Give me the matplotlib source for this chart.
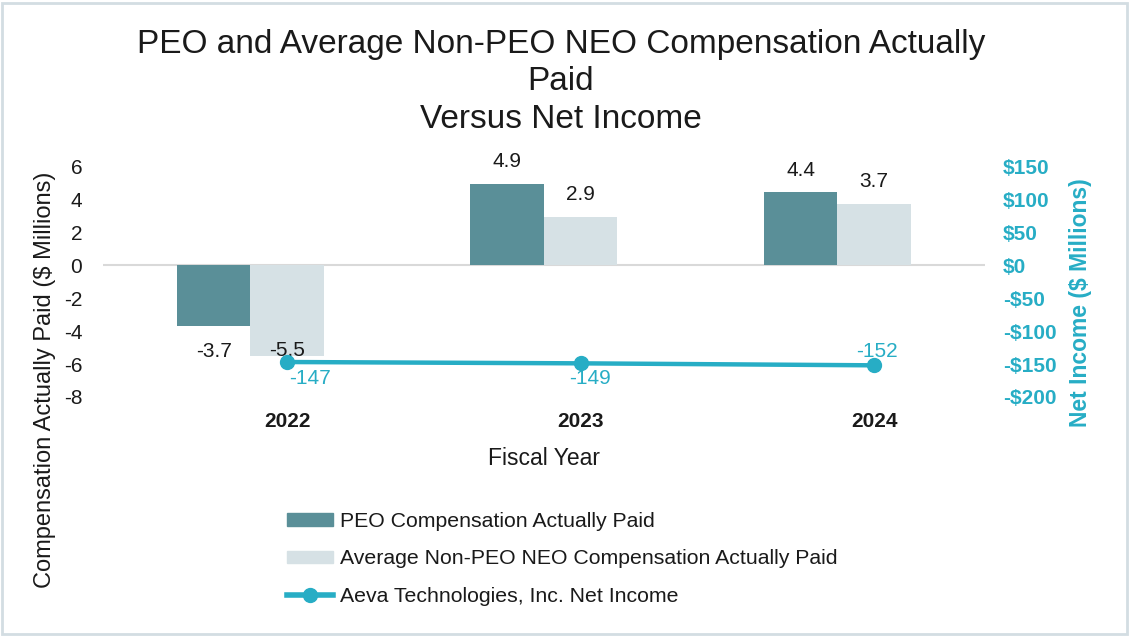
import matplotlib
matplotlib.use('Agg')
import matplotlib.pyplot as plt
import numpy as np
from matplotlib.patches import Patch, Rectangle
from matplotlib.lines import Line2D

plt.rcParams['font.family'] = ['Liberation Sans', 'DejaVu Sans']
plt.rcParams['axes.unicode_minus'] = False

# data
years = ['2022', '2023', '2024']
peo_cap = [-3.7, 4.9, 4.4]
neo_cap = [-5.5, 2.9, 3.7]
net_income = [-147, -149, -152]
left_ticks = [-8, -6, -4, -2, 0, 2, 4, 6]
right_ticks = [-200, -150, -100, -50, 0, 50, 100, 150]

# colours
c_peo = '#5A8F98'
c_neo = '#D6E1E5'
c_line = '#27ADC5'
c_text = '#1A1A1A'

W, H = 1130, 636
fig = plt.figure(figsize=(W / 100, H / 100), dpi=100)
ax = fig.add_axes([103 / W, 1 - 397 / H, (985 - 103) / W, (397 - 166) / H])

x = np.arange(len(years))
bw = 0.25
ax.bar(x - bw, peo_cap, width=bw, color=c_peo, zorder=2)
ax.bar(x, neo_cap, width=bw, color=c_neo, zorder=2)
ax.axhline(0, color='#D9D9D9', lw=1.5, zorder=1)

ax.set_xlim(-0.627, 2.378)
ax.set_ylim(-8, 6)
ax.set_yticks(left_ticks)
ax.set_yticklabels([str(t) for t in left_ticks])
ax.set_xticks(x)
ax.set_xticklabels(years, fontweight='bold')
ax.tick_params(axis='both', length=0, labelsize=15, colors=c_text)
ax.tick_params(axis='y', pad=15)
ax.tick_params(axis='x', pad=11)
ax.set_xlabel('Fiscal Year', fontsize=16.5, color=c_text, labelpad=11)
for s in ax.spines.values():
    s.set_visible(False)

# bar labels (offsets in points)
peo_off = [-18, 16, 16]
neo_off = [3.6, 16, 16]
for i in range(len(years)):
    ax.annotate(f'{peo_cap[i]:.1f}', (x[i] - bw, peo_cap[i]), xytext=(0, peo_off[i]),
                textcoords='offset points', ha='center', va='center', fontsize=15, color=c_text)
    ax.annotate(f'{neo_cap[i]:.1f}', (x[i], neo_cap[i]), xytext=(0, neo_off[i]),
                textcoords='offset points', ha='center', va='center', fontsize=15, color=c_text)

ax2 = ax.twinx()
ax2.plot(x, net_income, color=c_line, lw=3.2, marker='o', ms=10, zorder=3)
ax2.set_ylim(-200, 150)
ax2.set_yticks(right_ticks)
ax2.set_yticklabels([('-$' if t < 0 else '$') + str(abs(t)) for t in right_ticks],
                    fontweight='bold')
ax2.tick_params(axis='y', length=0, labelsize=15, colors=c_line, pad=13)
for s in ax2.spines.values():
    s.set_visible(False)

line_off = [(16.5, -12), (6.5, -11), (2, 10)]
for i in range(len(years)):
    ax2.annotate(str(net_income[i]), (x[i], net_income[i]), xytext=line_off[i],
                 textcoords='offset points', ha='center', va='center', fontsize=15, color=c_line)

# titles and axis labels
fig.text(561 / W, 1 - 82 / H,
         'PEO and Average Non-PEO NEO Compensation Actually\nPaid\nVersus Net Income',
         ha='center', va='center', fontsize=24, color=c_text, linespacing=1.28)
fig.text(45 / W, 1 - 380 / H, 'Compensation Actually Paid ($ Millions)', rotation=90,
         ha='center', va='center', fontsize=17, color=c_text)
fig.text(1080 / W, 1 - 303 / H, 'Net Income ($ Millions)', rotation=90,
         ha='center', va='center', fontsize=16.5, color=c_line, fontweight='bold')

handles = [Patch(color=c_peo), Patch(color=c_neo),
           Line2D([], [], color=c_line, lw=4, marker='o', ms=10)]
labels = ['PEO Compensation Actually Paid',
          'Average Non-PEO NEO Compensation Actually Paid',
          'Aeva Technologies, Inc. Net Income']
fig.legend(handles, labels, loc='upper left', bbox_to_anchor=(287 / W, 1 - 512 / H),
           frameon=False, fontsize=15.3, handlelength=2.15, handleheight=0.5,
           handletextpad=0.35, labelspacing=0.86, borderaxespad=0, borderpad=0,
           labelcolor=c_text)

fig.patches.append(Rectangle((2 / W, 2 / H), 1 - 5 / W, 1 - 5 / H, transform=fig.transFigure,
                             fill=False, edgecolor='#D3DDE2', lw=2))

fig.savefig('out.png', dpi=100)
